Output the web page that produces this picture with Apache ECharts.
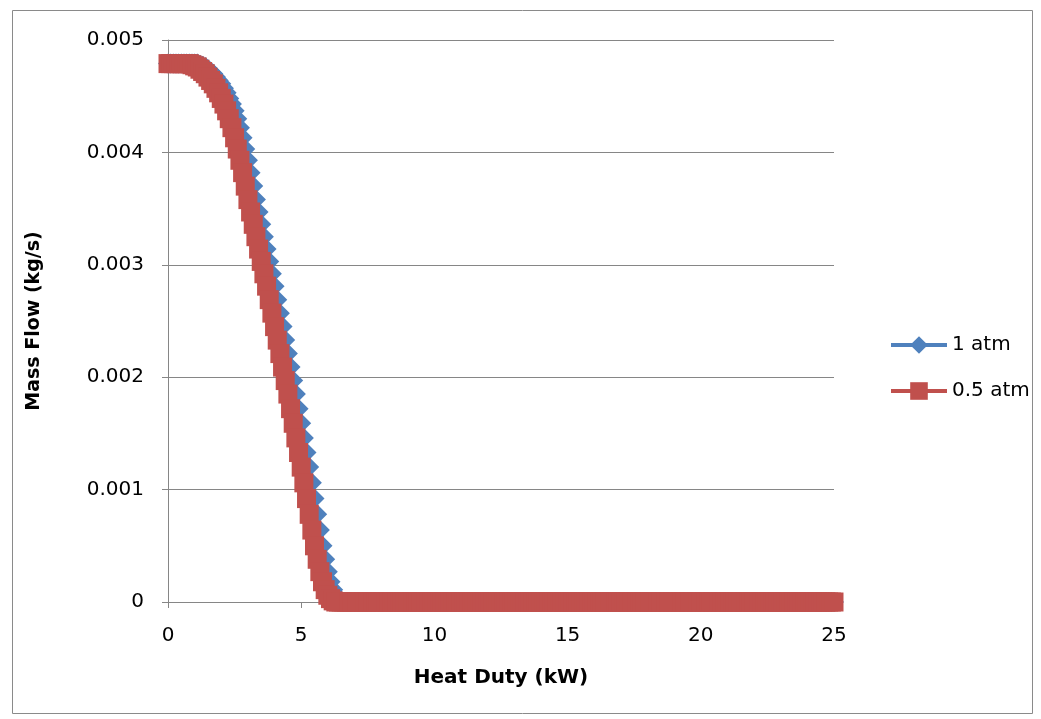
<!DOCTYPE html>
<html>
<head>
<meta charset="utf-8">
<script src="https://cdn.jsdelivr.net/npm/echarts@6/dist/echarts.min.js"></script>
<style>
html,body{margin:0;padding:0;background:#fff;}
#chart{width:1041px;height:719px;}
</style>
</head>
<body>
<div id="chart"></div>
<script>
// Heat duty (kW), 0.1 kW steps
const heatDuty = [
0,0.1,0.2,0.3,0.4,0.5,0.6,0.7,0.8,0.9,
1,1.1,1.2,1.3,1.4,1.5,1.6,1.7,1.8,1.9,
2,2.1,2.2,2.3,2.4,2.5,2.6,2.7,2.8,2.9,
3,3.1,3.2,3.3,3.4,3.5,3.6,3.7,3.8,3.9,
4,4.1,4.2,4.3,4.4,4.5,4.6,4.7,4.8,4.9,
5,5.1,5.2,5.3,5.4,5.5,5.6,5.7,5.8,5.9,
6,6.1,6.2,6.3,6.4,6.5,6.6,6.7,6.8,6.9,
7,7.1,7.2,7.3,7.4,7.5,7.6,7.7,7.8,7.9,
8,8.1,8.2,8.3,8.4,8.5,8.6,8.7,8.8,8.9,
9,9.1,9.2,9.3,9.4,9.5,9.6,9.7,9.8,9.9,
10,10.1,10.2,10.3,10.4,10.5,10.6,10.7,10.8,10.9,
11,11.1,11.2,11.3,11.4,11.5,11.6,11.7,11.8,11.9,
12,12.1,12.2,12.3,12.4,12.5,12.6,12.7,12.8,12.9,
13,13.1,13.2,13.3,13.4,13.5,13.6,13.7,13.8,13.9,
14,14.1,14.2,14.3,14.4,14.5,14.6,14.7,14.8,14.9,
15,15.1,15.2,15.3,15.4,15.5,15.6,15.7,15.8,15.9,
16,16.1,16.2,16.3,16.4,16.5,16.6,16.7,16.8,16.9,
17,17.1,17.2,17.3,17.4,17.5,17.6,17.7,17.8,17.9,
18,18.1,18.2,18.3,18.4,18.5,18.6,18.7,18.8,18.9,
19,19.1,19.2,19.3,19.4,19.5,19.6,19.7,19.8,19.9,
20,20.1,20.2,20.3,20.4,20.5,20.6,20.7,20.8,20.9,
21,21.1,21.2,21.3,21.4,21.5,21.6,21.7,21.8,21.9,
22,22.1,22.2,22.3,22.4,22.5,22.6,22.7,22.8,22.9,
23,23.1,23.2,23.3,23.4,23.5,23.6,23.7,23.8,23.9,
24,24.1,24.2,24.3,24.4,24.5,24.6,24.7,24.8,24.9,
25
];

// Mass flow (kg/s) at 1 atm
const flow1atm = [
0.00479,0.00479,0.00479,0.00479,0.00479,0.00479,0.00479,0.00479,0.00479,0.00479,
0.00479,0.00479,0.00478,0.00477,0.00476,0.00474,0.00472,0.00470,0.00467,0.00464,
0.00461,0.00457,0.00453,0.00448,0.00443,0.00437,0.00430,0.00422,0.00413,0.00403,
0.00393,0.00382,0.00370,0.00358,0.00347,0.00336,0.00325,0.00314,0.00303,0.00292,
0.00281,0.00269,0.00257,0.00245,0.00233,0.00221,0.00209,0.00197,0.00185,0.00172,
0.00159,0.00146,0.00133,0.00120,0.00106,0.00092,0.00078,0.00064,0.00050,0.00038,
0.00027,0.00018,0.00011,0.00006,0.00003,0.00001,
0,0,0,0,0,0,0,0,0,0, 0,0,0,0,0,0,0,0,0,0,
0,0,0,0,0,0,0,0,0,0, 0,0,0,0,0,0,0,0,0,0,
0,0,0,0,0,0,0,0,0,0, 0,0,0,0,0,0,0,0,0,0,
0,0,0,0,0,0,0,0,0,0, 0,0,0,0,0,0,0,0,0,0,
0,0,0,0,0,0,0,0,0,0, 0,0,0,0,0,0,0,0,0,0,
0,0,0,0,0,0,0,0,0,0, 0,0,0,0,0,0,0,0,0,0,
0,0,0,0,0,0,0,0,0,0, 0,0,0,0,0,0,0,0,0,0,
0,0,0,0,0,0,0,0,0,0, 0,0,0,0,0,0,0,0,0,0,
0,0,0,0,0,0,0,0,0,0, 0,0,0,0,0,0,0,0,0,0,
0,0,0,0,0
];

// Mass flow (kg/s) at 0.5 atm
const flow05atm = [
0.00479,0.00479,0.00479,0.00479,0.00479,0.00479,0.00479,0.00479,0.00479,0.00478,
0.00477,0.00476,0.00474,0.00472,0.00470,0.00467,0.00464,0.00461,0.00457,0.00453,
0.00448,0.00443,0.00437,0.00430,0.00422,0.00413,0.00403,0.00393,0.00382,0.00370,
0.00358,0.00347,0.00336,0.00325,0.00314,0.00303,0.00292,0.00281,0.00269,0.00257,
0.00245,0.00233,0.00221,0.00209,0.00197,0.00185,0.00172,0.00159,0.00146,0.00133,
0.00120,0.00106,0.00092,0.00078,0.00064,0.00050,0.00038,0.00027,0.00018,0.00011,
0.00006,0.00003,0.00001,
0,0,0,0,0,0,0,0,0,0, 0,0,0,0,0,0,0,0,0,0,
0,0,0,0,0,0,0,0,0,0, 0,0,0,0,0,0,0,0,0,0,
0,0,0,0,0,0,0,0,0,0, 0,0,0,0,0,0,0,0,0,0,
0,0,0,0,0,0,0,0,0,0, 0,0,0,0,0,0,0,0,0,0,
0,0,0,0,0,0,0,0,0,0, 0,0,0,0,0,0,0,0,0,0,
0,0,0,0,0,0,0,0,0,0, 0,0,0,0,0,0,0,0,0,0,
0,0,0,0,0,0,0,0,0,0, 0,0,0,0,0,0,0,0,0,0,
0,0,0,0,0,0,0,0,0,0, 0,0,0,0,0,0,0,0,0,0,
0,0,0,0,0,0,0,0,0,0, 0,0,0,0,0,0,0,0,0,0,
0,0,0,0,0,0,0,0
];

const seriesNames = ['1 atm', '0.5 atm'];
const xTicks = [0, 5, 10, 15, 20, 25];
const yTickLabels = ['0', '0.001', '0.002', '0.003', '0.004', '0.005'];

function pairs(xs, ys) {
  const n = Math.min(xs.length, ys.length);
  const out = [];
  for (let i = 0; i < n; i++) out.push([xs[i], ys[i]]);
  return out;
}

const FONT = 'DejaVu Sans';
const GRID = '#868686';
const chart = echarts.init(document.getElementById('chart'), null, {renderer: 'canvas'});
chart.setOption({
  animation: false,
  backgroundColor: '#fff',
  textStyle: {fontFamily: FONT},
  graphic: [{
    type: 'rect', left: 10, top: 8,
    shape: {width: 1020, height: 703},
    style: {fill: 'none', stroke: '#8a8a8a', lineWidth: 1},
    silent: true
  }],
  grid: {left: 168, right: 207, top: 40, bottom: 117, containLabel: false},
  legend: {
    orient: 'vertical', left: 884, top: 330,
    itemWidth: 56, itemHeight: 22, itemGap: 26,
    lineStyle: {width: 4},
    textStyle: {fontFamily: FONT, fontSize: 20, color: '#000'},
    data: seriesNames
  },
  xAxis: {
    type: 'value', min: 0, max: 25, interval: 5,
    name: 'Heat Duty (kW)', nameLocation: 'middle', nameGap: 66,
    nameTextStyle: {fontFamily: FONT, fontSize: 20, fontWeight: 'bold', color: '#000'},
    axisLine: {onZero: false, lineStyle: {color: GRID, width: 1}},
    axisTick: {show: true, inside: false, length: 6, lineStyle: {color: GRID}},
    axisLabel: {fontFamily: FONT, fontSize: 20, color: '#000', margin: 24,
      formatter: v => String(v)},
    splitLine: {show: false}
  },
  yAxis: {
    type: 'value', min: 0, max: 0.005, interval: 0.001,
    name: 'Mass Flow (kg/s)', nameLocation: 'middle', nameGap: 124,
    nameTextStyle: {fontFamily: FONT, fontSize: 19, fontWeight: 'bold', color: '#000'},
    axisLine: {show: true, lineStyle: {color: GRID, width: 1}},
    axisTick: {show: true, inside: false, length: 6, lineStyle: {color: GRID}},
    axisLabel: {fontFamily: FONT, fontSize: 20, color: '#000', margin: 24,
      formatter: v => yTickLabels[Math.round(v / 0.001)]},
    splitLine: {show: true, lineStyle: {color: GRID, width: 1}}
  },
  series: [
    {
      name: seriesNames[0], type: 'line',
      data: pairs(heatDuty, flow1atm),
      symbol: 'diamond', symbolSize: 20, showSymbol: true, showAllSymbol: true,
      color: '#4F81BD',
      itemStyle: {color: '#4F81BD'},
      lineStyle: {color: '#4F81BD', width: 4},
      z: 2
    },
    {
      name: seriesNames[1], type: 'line',
      data: pairs(heatDuty, flow05atm),
      symbol: 'rect', symbolSize: 19, showSymbol: true, showAllSymbol: true,
      color: '#C0504D',
      itemStyle: {color: '#C0504D'},
      lineStyle: {color: '#C0504D', width: 4},
      z: 3
    }
  ]
});
</script>
</body>
</html>
